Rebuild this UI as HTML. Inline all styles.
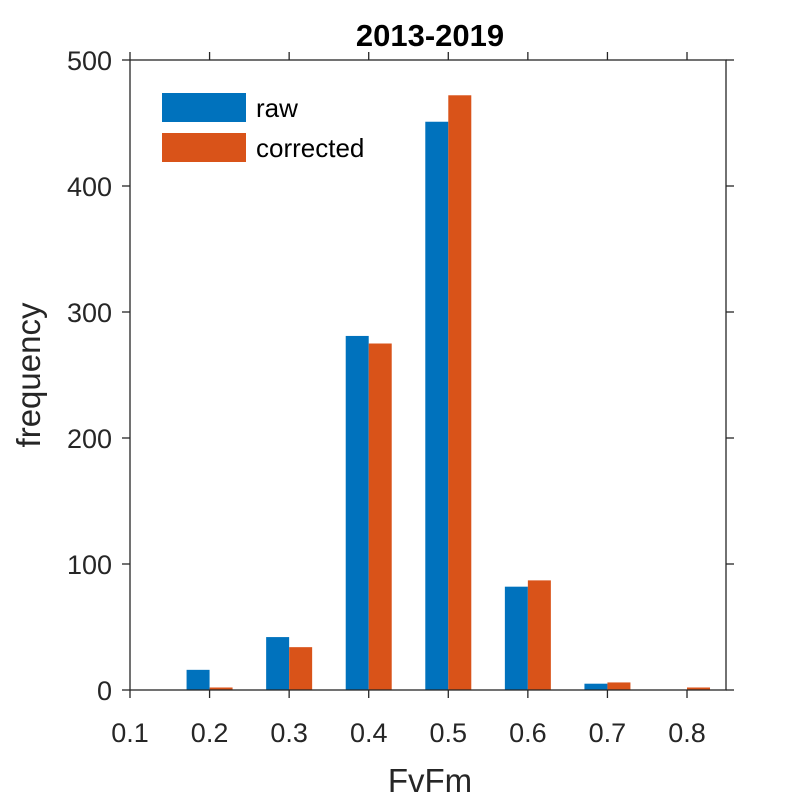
<!DOCTYPE html>
<html><head><meta charset="utf-8"><style>
html,body{margin:0;padding:0;background:#fff;}
svg text{font-family:"Liberation Sans",Arial,sans-serif;fill:#262626;}
</style></head><body>
<svg id="chart" width="800" height="800" viewBox="0 0 800 800" xmlns="http://www.w3.org/2000/svg">
<text x="430" y="46" font-size="31" font-weight="bold" text-anchor="middle" style="fill:#000">2013-2019</text>
<g id="bars"></g>
<g id="axes"></g>
<text x="430" y="792" font-size="33" text-anchor="middle">FvFm</text>
<text transform="translate(40,375) rotate(-90)" font-size="33" text-anchor="middle">frequency</text>
<g>
<rect x="162" y="93" width="84" height="29" fill="#0072BD"/>
<text x="256" y="117" font-size="26" style="fill:#000">raw</text>
<rect x="162" y="133" width="84" height="29" fill="#D95319"/>
<text x="256" y="157" font-size="26" style="fill:#000">corrected</text>
</g>
</svg>
<script>
const categories=[0.2,0.3,0.4,0.5,0.6,0.7,0.8];
const rawValues=[16,42,281,451,82,5,0];
const correctedValues=[2,34,275,472,87,6,2];
const xTicks=[0.1,0.2,0.3,0.4,0.5,0.6,0.7,0.8];
const yTicks=[0,100,200,300,400,500];
const NS="http://www.w3.org/2000/svg";
const L=130,R=726,T=60,B=690,xmin=0.1,xmax=0.849,ymin=0,ymax=500;
const xs=v=>L+(v-xmin)/(xmax-xmin)*(R-L);
const ys=v=>B-(v-ymin)/(ymax-ymin)*(B-T);
const bw=23;
const bars=document.getElementById('bars');
function mk(tag,attrs,parent){const e=document.createElementNS(NS,tag);for(const k in attrs)e.setAttribute(k,attrs[k]);parent.appendChild(e);return e;}
categories.forEach((c,i)=>{
 const x=xs(c);
 const r=mk('rect',{x:x-bw,y:ys(rawValues[i]),width:bw,height:B-ys(rawValues[i]),fill:'#0072BD'},bars);
 
 
 const q=mk('rect',{x:x,y:ys(correctedValues[i]),width:bw,height:B-ys(correctedValues[i]),fill:'#D95319'},bars);
 
 
});
const ax=document.getElementById('axes');
const box=mk('rect',{x:L,y:T,width:R-L,height:B-T,fill:'none',stroke:'#262626','stroke-width':1.3},ax);


xTicks.forEach(t=>{
 const x=xs(t);
 mk('line',{x1:x,x2:x,y1:B,y2:B+8,stroke:'#262626','stroke-width':1.3},ax);
 mk('line',{x1:x,x2:x,y1:T,y2:T-8,stroke:'#262626','stroke-width':1.3},ax);
 const tx=mk('text',{x:x,y:B+52,'font-size':27,'text-anchor':'middle'},ax);
 tx.textContent=t.toFixed(1);
 
 
});
yTicks.forEach(t=>{
 const y=ys(t);
 mk('line',{x1:L,x2:L-8,y1:y,y2:y,stroke:'#262626','stroke-width':1.3},ax);
 mk('line',{x1:R,x2:R+8,y1:y,y2:y,stroke:'#262626','stroke-width':1.3},ax);
 const tx=mk('text',{x:L-18,y:y+10,'font-size':27,'text-anchor':'end'},ax);
 tx.textContent=t;
 
 
});
</script>
</body></html>
